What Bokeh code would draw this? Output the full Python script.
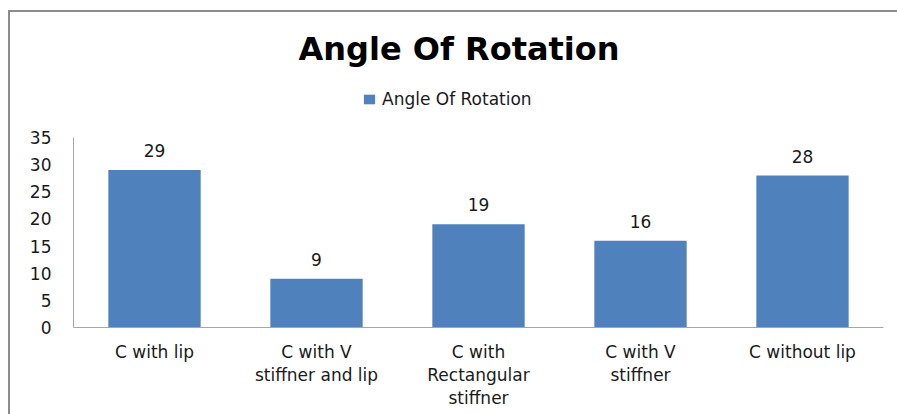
from bokeh.plotting import figure
from bokeh.models import (FactorRange, Range1d, FixedTicker, Legend, LegendItem,
                          ColumnDataSource, LabelSet)
from bokeh.core.properties import value
from bokeh.embed import file_html
from bokeh.resources import INLINE

categories = ["C with lip", "C with V\nstiffner and lip", "C with\nRectangular\nstiffner",
              "C with V\nstiffner", "C without lip"]
values = [29, 9, 19, 16, 28]
value_labels = ["29", "9", "19", "16", "28"]
y_ticks = [0, 5, 10, 15, 20, 25, 30, 35]
y_axis_max = 35
series_name = "Angle Of Rotation"
title_text = "Angle Of Rotation"

FONT = "DejaVu Sans"
BAR = "#4F81BD"

# layout (pixels)
W, H = 897, 414
FRAME_L, FRAME_R, FRAME_T, FRAME_B = 73, 883, 80, 327
AXIS_TOP_PX = 137  # where y=35 sits
top_extra = y_axis_max * (FRAME_B - FRAME_T) / (FRAME_B - AXIS_TOP_PX)

src = ColumnDataSource(dict(cat=categories, val=values, lab=value_labels))

p = figure(width=W, height=H, output_backend="svg", toolbar_location=None,
           x_range=FactorRange(*categories), y_range=Range1d(0, top_extra),
           min_border_left=FRAME_L, min_border_right=W - FRAME_R,
           min_border_top=FRAME_T, min_border_bottom=H - FRAME_B)
p.outline_line_color = None
p.xgrid.grid_line_color = None
p.ygrid.grid_line_color = None
p.background_fill_color = "white"
p.border_fill_alpha = 0
p.styles = {
    "background-color": "white",
    "background-image": "linear-gradient(#8c8c8c, #8c8c8c), linear-gradient(#8c8c8c, #8c8c8c)",
    "background-size": "2px 100%, 100% 2px",
    "background-position": "8px 10px, 8px 10px",
    "background-repeat": "no-repeat",
}

r = p.vbar(x="cat", top="val", width=0.57, source=src, fill_color=BAR, line_color=None)

labels = LabelSet(x="cat", y="val", text="lab", source=src, text_align="center",
                  text_baseline="alphabetic", y_offset=13, text_font=value(FONT),
                  text_font_size="17px", text_color="#1a1a1a")
p.add_layout(labels)

p.title.text = title_text
p.title.align = "left"
p.title.offset = 225
p.title.text_font = FONT
p.title.text_font_size = "32px"
p.title.text_font_style = "bold"
p.title.text_color = "#000000"
p.title.standoff = 25

legend = Legend(items=[LegendItem(label=series_name, renderers=[r])],
                orientation="horizontal", location=(289, 218),
                label_text_font=FONT, label_text_font_size="17px", label_text_color="#1a1a1a",
                glyph_width=14, glyph_height=12, border_line_color=None,
                background_fill_alpha=0, margin=0, padding=0, label_standoff=6)
p.add_layout(legend)

p.yaxis.ticker = FixedTicker(ticks=y_ticks)
p.yaxis.bounds = (0, y_axis_max)
p.yaxis.major_tick_line_color = None
p.yaxis.minor_tick_line_color = None
p.yaxis.major_tick_out = 0
p.yaxis.major_label_standoff = 22
p.yaxis.axis_line_color = "#a6a6a6"
p.yaxis.major_label_text_font = FONT
p.yaxis.major_label_text_font_size = "17px"
p.yaxis.major_label_text_color = "#1a1a1a"

p.xaxis.major_tick_line_color = None
p.xaxis.major_tick_out = 0
p.xaxis.major_label_standoff = 14
p.xaxis.axis_line_color = "#a6a6a6"
p.xaxis.major_label_text_font = FONT
p.xaxis.major_label_text_font_size = "17px"
p.xaxis.major_label_text_color = "#1a1a1a"
p.xaxis.major_label_text_line_height = 1.16

open("out.html", "w").write(file_html(p, INLINE))
